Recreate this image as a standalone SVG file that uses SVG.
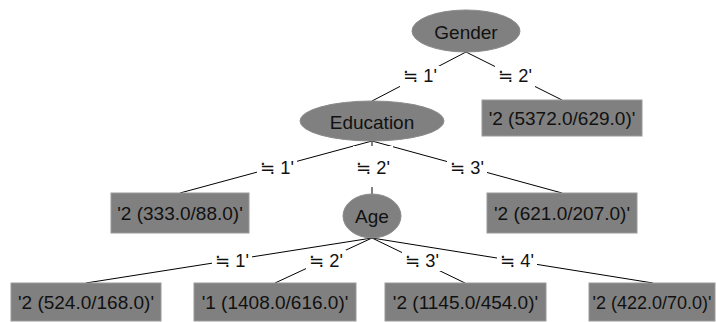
<svg xmlns="http://www.w3.org/2000/svg" width="716" height="322" viewBox="0 0 716 322">
<style>
  .node{fill:#808080;stroke:#8a8a8a;stroke-width:1}
  .leaf{fill:#808080;stroke:#9a9a9a;stroke-width:1}
  .t{font-family:"Liberation Sans","DejaVu Sans",sans-serif;font-size:19px;fill:#111;text-anchor:middle}
  .edge{stroke:#000;stroke-width:1;fill:none}
  .lblbg{fill:#fff}
  .lbl{font-family:"Liberation Sans","DejaVu Sans",sans-serif;font-size:18px;fill:#111;text-anchor:middle}
</style>
<rect width="716" height="322" fill="#fff"/>
<g id="connectors">
  <line class="edge" x1="466" y1="52" x2="372" y2="101"/>
  <line class="edge" x1="466" y1="52" x2="562" y2="100"/>
  <line class="edge" x1="372" y1="141" x2="180" y2="193"/>
  <line class="edge" x1="372" y1="141" x2="372" y2="194"/>
  <line class="edge" x1="372" y1="141" x2="562" y2="193"/>
  <line class="edge" x1="372" y1="238" x2="86" y2="283"/>
  <line class="edge" x1="372" y1="238" x2="275" y2="283"/>
  <line class="edge" x1="372" y1="238" x2="465" y2="283"/>
  <line class="edge" x1="372" y1="238" x2="653" y2="283"/>
  <g>
    <rect class="lblbg" x="400" y="66" width="40" height="21"/>
    <text class="lbl" x="420" y="82" textLength="34" lengthAdjust="spacingAndGlyphs">≒ 1'</text>
  </g>
  <g>
    <rect class="lblbg" x="495" y="66" width="40" height="21"/>
    <text class="lbl" x="515" y="82" textLength="34" lengthAdjust="spacingAndGlyphs">≒ 2'</text>
  </g>
  <g>
    <rect class="lblbg" x="257" y="157" width="40" height="21"/>
    <text class="lbl" x="277" y="174" textLength="34" lengthAdjust="spacingAndGlyphs">≒ 1'</text>
  </g>
  <g>
    <rect class="lblbg" x="353" y="146" width="40" height="41"/>
    <text class="lbl" x="373" y="174" textLength="34" lengthAdjust="spacingAndGlyphs">≒ 2'</text>
  </g>
  <g>
    <rect class="lblbg" x="447" y="157" width="40" height="21"/>
    <text class="lbl" x="467" y="174" textLength="34" lengthAdjust="spacingAndGlyphs">≒ 3'</text>
  </g>
  <g>
    <rect class="lblbg" x="212" y="250" width="40" height="21"/>
    <text class="lbl" x="232" y="267" textLength="34" lengthAdjust="spacingAndGlyphs">≒ 1'</text>
  </g>
  <g>
    <rect class="lblbg" x="306" y="250" width="40" height="21"/>
    <text class="lbl" x="326" y="267" textLength="34" lengthAdjust="spacingAndGlyphs">≒ 2'</text>
  </g>
  <g>
    <rect class="lblbg" x="402" y="250" width="40" height="21"/>
    <text class="lbl" x="422" y="267" textLength="34" lengthAdjust="spacingAndGlyphs">≒ 3'</text>
  </g>
  <g>
    <rect class="lblbg" x="497" y="250" width="40" height="21"/>
    <text class="lbl" x="517" y="267" textLength="34" lengthAdjust="spacingAndGlyphs">≒ 4'</text>
  </g>
</g>
<g id="gender">
  <ellipse class="node" cx="466" cy="31" rx="54" ry="21"/>
  <text class="t" x="466" y="39">Gender</text>
</g>
<g id="education">
  <ellipse class="node" cx="372" cy="121" rx="72" ry="20"/>
  <text class="t" x="372" y="129">Education</text>
</g>
<g id="leaf-5372">
  <rect class="leaf" x="482" y="100" width="160" height="36"/>
  <text class="t" x="562" y="125">'2 (5372.0/629.0)'</text>
</g>
<g id="leaf-333">
  <rect class="leaf" x="111" y="193" width="138" height="40"/>
  <text class="t" x="180" y="220">'2 (333.0/88.0)'</text>
</g>
<g id="age">
  <ellipse class="node" cx="372" cy="216" rx="29" ry="22"/>
  <text class="t" x="372" y="223">Age</text>
</g>
<g id="leaf-621">
  <rect class="leaf" x="487" y="193" width="150" height="40"/>
  <text class="t" x="562" y="220">'2 (621.0/207.0)'</text>
</g>
<g id="leaf-524">
  <rect class="leaf" x="11" y="283" width="150" height="38"/>
  <text class="t" x="86" y="309">'2 (524.0/168.0)'</text>
</g>
<g id="leaf-1408">
  <rect class="leaf" x="194" y="283" width="162" height="38"/>
  <text class="t" x="275" y="309">'1 (1408.0/616.0)'</text>
</g>
<g id="leaf-1145">
  <rect class="leaf" x="385" y="283" width="161" height="38"/>
  <text class="t" x="465.5" y="309">'2 (1145.0/454.0)'</text>
</g>
<g id="leaf-422">
  <rect class="leaf" x="589" y="283" width="126" height="38"/>
  <text class="t" x="652" y="309" style="font-size:18px">'2 (422.0/70.0)'</text>
</g>
</svg>
